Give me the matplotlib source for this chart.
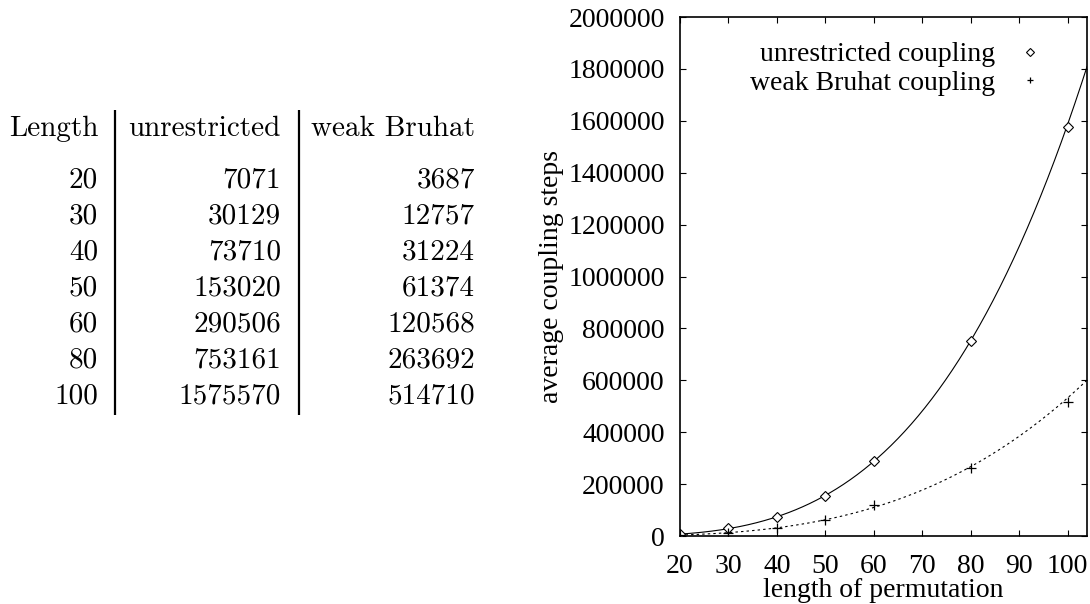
import numpy as np
import matplotlib
matplotlib.use("Agg")
import matplotlib.pyplot as plt

# data (values from the table in the reference)
lengths = [20, 30, 40, 50, 60, 80, 100]
unrestricted = [7071, 30129, 73710, 153020, 290506, 753161, 1575570]
weak_bruhat = [3687, 12757, 31224, 61374, 120568, 263692, 514710]

header = ["Length", "unrestricted", "weak Bruhat"]
x_ticks = [20, 30, 40, 50, 60, 70, 80, 90, 100]
y_ticks = [0, 200000, 400000, 600000, 800000, 1000000,
           1200000, 1400000, 1600000, 1800000, 2000000]

W, H = 1090, 604
fig = plt.figure(figsize=(W / 100, H / 100), dpi=100)

# ---- table on the left (drawn in pixel coords on an invisible axes) ----
tab = fig.add_axes([0, 0, 1, 1])
tab.set_xlim(0, W)
tab.set_ylim(H, 0)
tab.axis("off")

tfont = dict(family="cmr10", size=21, va="baseline", ha="right")
col_right = [98, 281, 475]
head_y = 136
row_y0, row_dy = 187, 36

for cx, h in zip(col_right, header):
    tab.text(cx, head_y, h, **tfont)
for i, (n, u, w) in enumerate(zip(lengths, unrestricted, weak_bruhat)):
    y = row_y0 + i * row_dy
    for cx, v in zip(col_right, (n, u, w)):
        tab.text(cx, y, str(v), **tfont)

for lx in (115, 299):
    tab.plot([lx, lx], [110, 415], color="black", lw=1.6, solid_capstyle="butt")

# ---- plot on the right ----
ax = fig.add_axes([680 / W, 1 - 536 / H, (1087 - 680) / W, (536 - 17) / H])
serif = "Liberation Serif"
fs = 20

def power_fit(x, y):
    b, loga = np.polyfit(np.log(x), np.log(y), 1)
    return lambda t: np.exp(loga) * t ** b

xs = np.linspace(20, 104, 300)
fit_u = power_fit(lengths, unrestricted)
fit_w = power_fit(lengths, weak_bruhat)

ax.plot(xs, fit_u(xs), color="black", lw=0.8)
ax.plot(xs, fit_w(xs), color="black", lw=0.8, linestyle=(0, (2.2, 2.8)))

ax.plot(lengths, unrestricted, linestyle="none", marker="D", markersize=5,
        markerfacecolor="white", markeredgecolor="black", markeredgewidth=0.8,
        label="unrestricted coupling")
ax.plot(lengths, weak_bruhat, linestyle="none", marker="+", markersize=7,
        color="black", markeredgewidth=0.9, label="weak Bruhat coupling")

ax.set_xlim(20, 104)
ax.set_ylim(0, 2000000)
ax.set_xticks(x_ticks)
ax.set_yticks(y_ticks)
ax.set_xticklabels([str(t) for t in x_ticks], family=serif, fontsize=fs)
ax.set_yticklabels([str(t) for t in y_ticks], family=serif, fontsize=fs)
ax.tick_params(direction="in", length=4.5, width=0.8, top=True, right=True)
ax.tick_params(axis="y", pad=11)
ax.tick_params(axis="x", pad=13)
for s in ax.spines.values():
    s.set_linewidth(1.2)

ax.set_xlabel("length of permutation", family=serif, fontsize=fs, labelpad=-1)
ax.set_ylabel("average coupling steps", family=serif, fontsize=fs, labelpad=3)

leg = ax.legend(loc="upper right", bbox_to_anchor=(0.88, 0.952), frameon=False,
                markerfirst=False, alignment="right", handlelength=0.6,
                handletextpad=0.96, labelspacing=0.1, borderaxespad=0,
                borderpad=0, prop=dict(family=serif, size=fs))
for h in leg.legend_handles:
    h.set_markersize(4)

fig.savefig("out.png", dpi=100)
